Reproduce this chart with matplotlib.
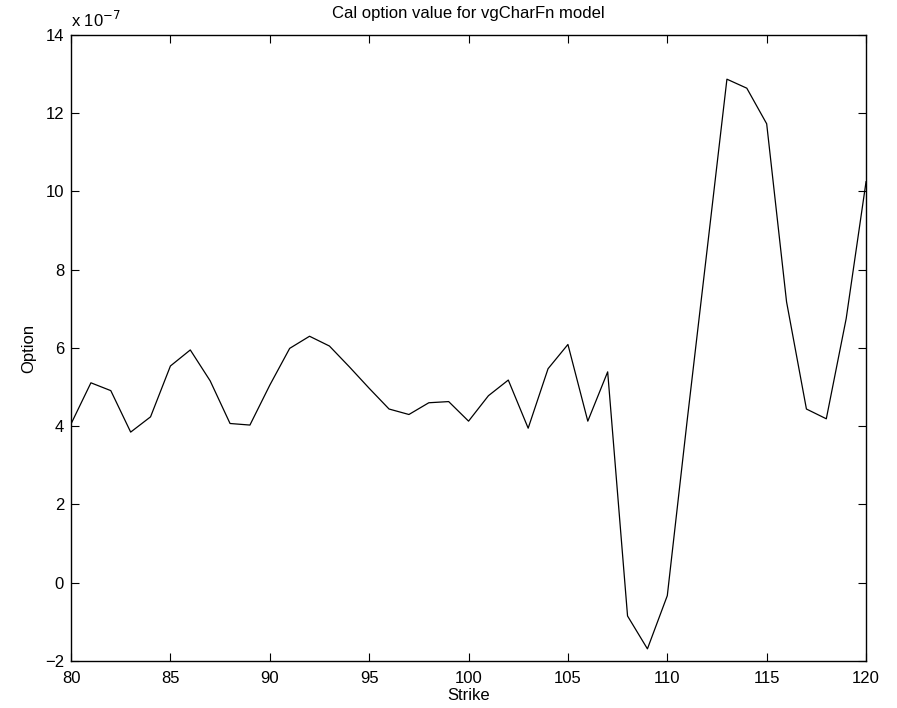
import matplotlib
matplotlib.use("Agg")
import matplotlib.pyplot as plt
from matplotlib.ticker import FuncFormatter
import numpy as np

plt.rcParams['font.family'] = ['Liberation Sans', 'DejaVu Sans']

# Strike prices and option values (units of 1e-7)
strike = list(range(80, 121))
option_e7 = [4.06, 5.11, 4.91, 3.85, 4.24, 5.54, 5.95, 5.16, 4.07, 4.03,
             5.05, 5.99, 6.30, 6.05, 5.52, 4.97, 4.44, 4.30, 4.60, 4.63,
             4.13, 4.78, 5.18, 3.95, 5.47, 6.09, 4.13, 5.39, -0.85, -1.69,
             -0.33, 4.15, 8.50, 12.87, 12.64, 11.73, 7.18, 4.44, 4.19, 6.75,
             10.25]
option = np.array(option_e7) * 1e-7

x_ticks = [80, 85, 90, 95, 100, 105, 110, 115, 120]
y_ticks = np.arange(-2, 15, 2) * 1e-7

fig = plt.figure(figsize=(8.97, 7.08), dpi=100)
ax = fig.add_axes([0.0792, 0.0664, 0.8863, 0.8842])

ax.plot(strike, option, color='black', linewidth=0.9)

ax.set_xlim(80, 120)
ax.set_ylim(-2e-7, 14e-7)
ax.set_xticks(x_ticks)
ax.set_yticks(y_ticks)
ax.yaxis.set_major_formatter(FuncFormatter(lambda v, p: f"{v / 1e-7:.0f}".replace('-', '\u2212')))

ax.tick_params(direction='in', length=5.5, width=0.8, top=True, right=True,
               labelsize=12, pad=5)
ax.tick_params(axis='x', pad=7)
for s in ax.spines.values():
    s.set_linewidth(1.0)

ax.set_title('Cal option value for vgCharFn model', fontsize=12, pad=12)
ax.set_xlabel('Strike', fontsize=12, labelpad=2)
ax.set_ylabel('Option', fontsize=12, labelpad=6)
ax.text(0.0, 1.008, r'x 10$^{-7}$', transform=ax.transAxes, fontsize=12,
        ha='left', va='bottom')

fig.savefig('out.png', dpi=100)
